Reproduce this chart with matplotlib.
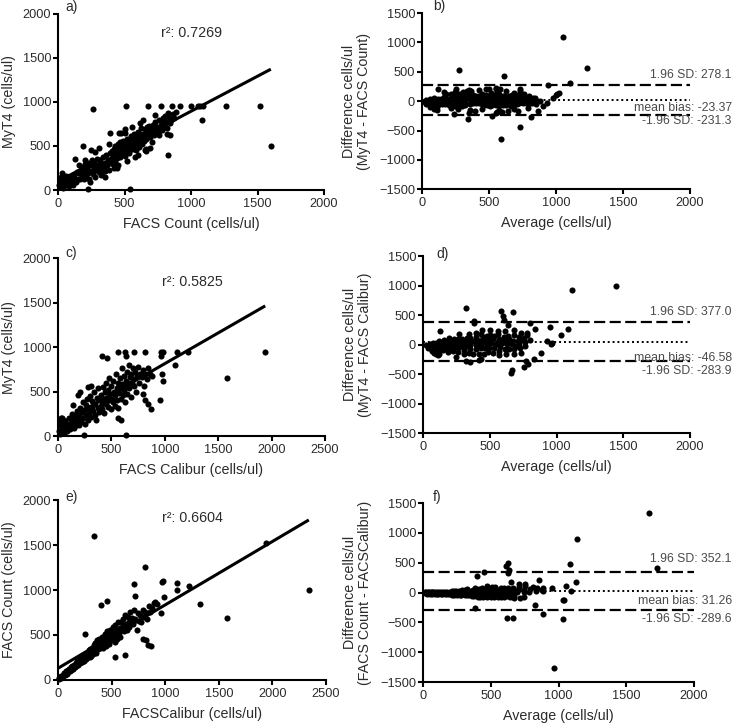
import matplotlib
matplotlib.use('Agg')
import matplotlib.pyplot as plt
import matplotlib.transforms as mtransforms
import numpy as np

# ---- data (cells/ul) ----
# a) FACS Count (x) vs MyT4 (y); b) is built from the same pairs
facs_count_a = [5, 12, 18, 22, 28, 33, 38, 45, 50, 57, 62, 68, 75, 82, 88, 95, 102, 108, 115, 122,
                130, 137, 145, 152,
                158, 165, 172, 178, 185, 191, 198, 204, 210, 217, 223, 229, 236, 242, 248, 255,
                261, 268, 274, 280, 287, 293, 300, 306, 312, 318, 325, 331, 338, 344, 350, 357,
                363, 369, 376, 382, 388, 395,
                401, 405, 410, 414, 419, 423, 428, 432, 437, 441, 446, 450, 455, 459, 464, 468,
                473, 477, 482, 486, 491, 495, 500, 504, 509, 513, 518, 522, 527, 531, 536, 540,
                545, 549, 554, 558, 563, 567, 572, 576, 581, 585, 590, 594, 599, 603, 608, 612,
                617, 621, 626, 630, 635, 639, 644, 648, 653, 657, 662, 666, 671, 675, 680, 684,
                689, 693, 698,
                705, 712, 718, 725, 732, 740, 746, 753, 760, 768, 775, 783, 790, 798, 806, 815,
                823, 832, 842, 851, 862, 874, 886,
                310, 350, 420, 470, 520, 560, 600, 640, 690, 730, 380, 450, 500, 580, 620, 660,
                710, 760, 820, 280, 240, 200, 160, 330,
                510, 675, 775, 860, 920, 1000, 1050, 1070, 1090, 1260, 1520, 1600, 1080,
                830, 840, 830, 390, 455, 500, 190, 250, 130, 445, 222, 540, 655, 665, 780,
                805, 265]
myt4_a = [60, 110, 30, 150, 70, 190, 20, 95, 130, 60, 160, 85, 110, 40, 140, 75, 150, 90, 60, 170,
          120, 95, 200, 130,
          190, 120, 230, 150, 260, 200, 130, 290, 170, 240, 310, 190, 120, 280, 220, 340,
          180, 260, 300, 150, 230, 350, 280, 200, 330, 250, 170, 300, 380, 260, 220, 310,
          400, 280, 340, 230, 420, 310,
          350, 440, 300, 380, 470, 410, 330, 500, 390, 450, 360, 520, 430, 480, 380, 550,
          440, 400, 500, 460, 560, 420, 480, 390, 530, 470, 580, 440, 500, 420, 560, 490,
          610, 460, 530, 580, 470, 520, 640, 500, 560, 450, 600, 530, 660, 540, 580, 490,
          620, 560, 700, 580, 520, 640, 600, 560, 690, 620, 580, 720, 640, 600, 680, 730,
          640, 600, 700,
          660, 740, 620, 700, 770, 680, 720, 650, 790, 700, 740, 680, 820, 760, 720, 780,
          700, 820, 760, 800, 860, 820, 880,
          480, 150, 250, 650, 330, 720, 400, 800, 480, 850, 520, 280, 690, 380, 760, 470,
          540, 620, 640, 430, 90, 340, 280, 200,
          950, 950, 950, 950, 950, 950, 950, 950, 950, 950, 950, 500, 800,
          870, 630, 400, 650, 650, 650, 500, 450, 350, 250, 15, 10, 450, 440, 800,
          840, 915]

# c) FACS Calibur (x) vs MyT4 (y); d) is built from the same pairs
calibur_c = [8, 15, 22, 28, 35, 42, 50, 57, 65, 72, 80, 88, 96, 104, 112, 120, 128, 136, 144, 152,
             160, 167, 174, 181, 188, 195, 202, 209, 216, 223, 230, 237, 244, 251, 258, 265,
             272, 279, 286, 293, 300, 307, 314, 321, 328, 335, 342, 349, 356, 363, 370, 377,
             384, 391, 398,
             404, 410, 416, 422, 428, 434, 440, 446, 452, 458, 464, 470, 476, 482, 488, 494,
             500, 506, 512, 518, 524, 530, 536, 542, 548, 554, 560, 566, 572, 578, 584, 590,
             596, 602, 608, 614, 620, 626, 632, 638, 644, 650, 656, 662, 668, 674, 680, 686,
             692, 698,
             706, 715, 724, 733, 742, 752, 762, 772, 783, 794, 806, 818, 831, 845, 860, 876,
             565, 627, 634, 715, 815, 965, 985, 964, 1110, 1100, 415, 455, 1220, 1580, 1940,
             970, 985, 955, 870, 840, 815, 800, 565, 590, 635, 245, 205, 190, 285, 310, 145,
             40, 30, 15, 15]
myt4_c = [60, 150, 20, 110, 190, 70, 130, 40, 170, 90, 140, 60, 110, 200, 80, 150, 250, 120, 180, 90,
          210, 130, 280, 170, 240, 120, 320, 210, 160, 270, 380, 200, 290, 140, 350, 240,
          420, 180, 300, 260, 450, 210, 330, 390, 280, 500, 240, 360, 180, 430, 310, 540,
          270, 400, 340,
          460, 300, 380, 550, 420, 260, 490, 360, 600, 430, 330, 520, 400, 650, 470, 300,
          560, 420, 380, 620, 500, 340, 460, 700, 540, 400, 600, 320, 480, 650, 540, 420,
          760, 580, 460, 680, 520, 380, 620, 560, 720, 470, 600, 800, 540, 660, 440, 700,
          600, 760,
          640, 560, 720, 500, 680, 780, 600, 700, 660, 740, 560, 700, 640, 760, 700, 680,
          950, 950, 905, 950, 950, 950, 950, 900, 950, 800, 900, 880, 950, 650, 950,
          700, 620, 400, 300, 360, 400, 470, 200, 180, 15, 15, 500, 460, 550, 560, 350,
          200, 200, 180, 120]

# e) FACSCalibur (x) vs FACS Count (y); f) is built from the same pairs
calibur_e = [6, 12, 19, 25, 31, 38, 44, 51, 57, 64, 70, 77, 83, 90, 97, 104, 111, 118, 125, 133,
             140, 148, 156, 164, 172, 180, 188, 196, 205, 213, 222, 231, 240, 249, 258, 267,
             276, 285, 294,
             302, 308, 315, 321, 328, 334, 341, 347, 354, 360, 367, 373, 380, 386, 393, 399,
             406, 412, 419, 425, 432, 438, 445, 451, 458, 464, 471, 477, 484, 490, 497, 503,
             510, 516, 523, 529, 536, 542, 549, 555, 562, 568, 575, 581, 588, 594,
             602, 610, 618, 626, 634, 642, 650, 658, 667, 676, 685, 694, 703, 713, 723, 733,
             744, 755, 766, 778, 790, 803, 816, 830, 845, 860, 880, 900, 925,
             810, 340, 1940, 2340, 1580, 1325, 1110, 1110, 1225, 970, 980, 705, 718, 405, 454,
             252, 530, 625, 795, 840, 870, 825, 990, 905, 960]
facs_count_e = [20, 10, 35, 22, 45, 30, 60, 40, 75, 55, 62, 95, 70, 110, 85, 120, 95, 140, 110, 150,
                125, 170, 140, 190, 155, 210, 170, 230, 190, 250, 200, 270, 215, 290, 235, 300,
                250, 330, 260,
                340, 270, 360, 300, 290, 390, 320, 410, 300, 370, 440, 340, 400, 460, 350, 420,
                480, 390, 350, 470, 420, 510, 380, 460, 540, 430, 490, 400, 560, 470, 520, 440,
                590, 480, 540, 420, 610, 500, 560, 460, 640, 520, 580, 480, 650, 560,
                600, 680, 540, 720, 620, 560, 700, 650, 590, 760, 640, 690, 620, 780, 680, 560,
                740, 660, 720, 640, 780, 700, 760, 680, 820, 760, 800, 860, 840,
                1260, 1600, 1520, 1000, 690, 840, 1080, 1000, 1040, 1090, 1100, 1070, 930, 835, 880,
                515, 260, 275, 460, 390, 380, 440, 920, 870, 750]

# regression lines (slope, intercept) and r^2 as printed
fits = {'a': (0.796, 98.0), 'c': (0.69, 124.0), 'e': (0.705, 130.0)}
r2_text = {'a': '0.7269', 'c': '0.5825', 'e': '0.6604'}

# Bland-Altman limits as printed
sd_upper = {'b': '278.1', 'd': '377.0', 'f': '352.1'}
sd_lower = {'b': '-231.3', 'd': '-283.9', 'f': '-289.6'}
bias_text = {'b': '-23.37', 'd': '-46.58', 'f': '31.26'}

TXT = '#2b2b2b'
plt.rcParams['font.family'] = ['Liberation Sans', 'DejaVu Sans']
plt.rcParams['axes.linewidth'] = 1.5
plt.rcParams['xtick.major.width'] = 1.5
plt.rcParams['ytick.major.width'] = 1.5
plt.rcParams['xtick.major.size'] = 3.5
plt.rcParams['ytick.major.size'] = 3.5
plt.rcParams['xtick.direction'] = 'out'
plt.rcParams['ytick.direction'] = 'out'
plt.rcParams['xtick.labelsize'] = 9.2
plt.rcParams['ytick.labelsize'] = 9.2
plt.rcParams['xtick.labelcolor'] = TXT
plt.rcParams['ytick.labelcolor'] = TXT
plt.rcParams['xtick.major.pad'] = 2
plt.rcParams['ytick.major.pad'] = 1.5

# per-panel text placement (axes fraction / pixel offsets)
r2_y = {'a': 0.892, 'c': 0.868, 'e': 0.898}
letter_pos = {'a': (0.026, 1.04), 'b': (0.041, 1.04), 'c': (0.026, 1.028),
              'd': (0.05, 1.01), 'e': (0.026, 1.02), 'f': (0.037, 1.035)}
# pixel offsets of text centre from upper / bias / lower line
ba_offsets = {'b': (10, -7.7, -6.5), 'd': (10.7, -16, -10), 'f': (13, -10.7, -9)}


def style(ax):
    ax.spines['top'].set_visible(False)
    ax.spines['right'].set_visible(False)


def panel_letter(ax, key):
    x, y = letter_pos[key]
    ax.text(x, y, key + ')', transform=ax.transAxes, ha='left', va='center',
            fontsize=10, color=TXT)


def scatter_panel(ax, x, y, key, xmax, xlabel, ylabel):
    x = np.asarray(x, float)
    y = np.asarray(y, float)
    ax.plot(x, y, 'o', color='black', ms=4.4, mec='none', clip_on=False, zorder=3)
    m, b = fits[key]
    xs = np.array([0.0, x.max()])
    ax.plot(xs, m * xs + b, color='black', lw=2.2, solid_capstyle='butt', zorder=4)
    ax.set_xlim(0, xmax)
    ax.set_ylim(0, 2000)
    ax.set_xticks(np.arange(0, xmax + 1, 500))
    ax.set_yticks(np.arange(0, 2001, 500))
    ax.set_xlabel(xlabel, fontsize=10.3, color=TXT, labelpad=5)
    ax.set_ylabel(ylabel, fontsize=10.3, color=TXT, labelpad=5)
    ax.text(0.503, r2_y[key], 'r\u00b2: ' + r2_text[key], transform=ax.transAxes,
            ha='center', va='center', fontsize=10.3, color=TXT)
    panel_letter(ax, key)
    style(ax)


def ba_panel(fig, ax, x, y, key, ylabel):
    x = np.asarray(x, float)
    y = np.asarray(y, float)
    avg = (x + y) / 2.0
    diff = x - y
    ax.plot(avg, diff, 'o', color='black', ms=4.4, mec='none', clip_on=False, zorder=3)
    up = float(sd_upper[key])
    lo = float(sd_lower[key])
    mid = (up + lo) / 2.0
    ax.plot([0, 2000], [up, up], color='black', lw=1.6, dashes=(5, 2), zorder=2)
    ax.plot([0, 2000], [lo, lo], color='black', lw=1.6, dashes=(5, 2), zorder=2)
    ax.plot([0, 2000], [mid, mid], color='black', lw=1.4, dashes=(1, 1.5), zorder=2)
    tr = mtransforms.blended_transform_factory(fig.transFigure, ax.transData)
    o_up, o_mid, o_lo = ba_offsets[key]
    labels = [('1.96 SD: ' + sd_upper[key], up, o_up),
              ('mean bias: ' + bias_text[key], mid, o_mid),
              ('-1.96 SD: ' + sd_lower[key], lo, o_lo)]
    for txt, yv, off in labels:
        ax.annotate(txt, xy=(0.993, yv), xycoords=tr,
                    xytext=(0, off * 0.72), textcoords='offset points', ha='right',
                    va='center', fontsize=8.8, color='#4a4a4a', annotation_clip=False)
    ax.set_xlim(0, 2000)
    ax.set_ylim(-1500, 1500)
    ax.set_xticks(np.arange(0, 2001, 500))
    ax.set_yticks(np.arange(-1500, 1501, 500))
    ax.set_xlabel('Average (cells/ul)', fontsize=10.3, color=TXT, labelpad=5)
    ax.set_ylabel(ylabel, fontsize=10.3, color=TXT, labelpad=6, linespacing=1.05)
    panel_letter(ax, key)
    style(ax)


fig = plt.figure(figsize=(7.37, 7.28), dpi=100)
ax_a = fig.add_axes([0.0787, 0.739, 0.361, 0.242])
ax_b = fig.add_axes([0.5726, 0.740, 0.3636, 0.242])
ax_c = fig.add_axes([0.0787, 0.401, 0.3623, 0.2445])
ax_d = fig.add_axes([0.574, 0.405, 0.3623, 0.243])
ax_e = fig.add_axes([0.0787, 0.066, 0.3636, 0.247])
ax_f = fig.add_axes([0.574, 0.063, 0.3677, 0.246])

scatter_panel(ax_a, facs_count_a, myt4_a, 'a', 2000, 'FACS Count (cells/ul)', 'MyT4 (cells/ul)')
scatter_panel(ax_c, calibur_c, myt4_c, 'c', 2500, 'FACS Calibur (cells/ul)', 'MyT4 (cells/ul)')
scatter_panel(ax_e, calibur_e, facs_count_e, 'e', 2500, 'FACSCalibur (cells/ul)', 'FACS Count (cells/ul)')

ba_panel(fig, ax_b, facs_count_a, myt4_a, 'b', 'Difference cells/ul\n(MyT4 - FACS Count)')
ba_panel(fig, ax_d, calibur_c, myt4_c, 'd', 'Difference cells/ul\n(MyT4 - FACS Calibur)')
ba_panel(fig, ax_f, calibur_e, facs_count_e, 'f', 'Difference cells/ul\n(FACS Count - FACSCalibur)')

plt.savefig('out.png', dpi=100)
